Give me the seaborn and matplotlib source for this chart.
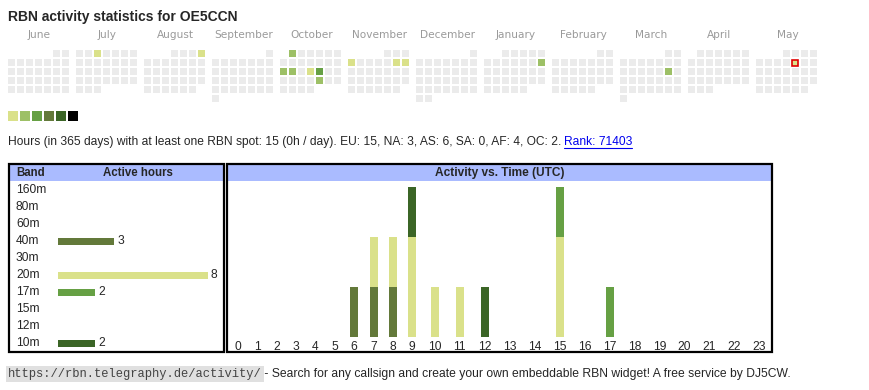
import calendar
import matplotlib
matplotlib.use('Agg')
import matplotlib.pyplot as plt
from matplotlib.patches import Rectangle
import seaborn as sns

# data
callsign = 'OE5CCN'
month_names = ['June', 'July', 'August', 'September', 'October', 'November',
               'December', 'January', 'February', 'March', 'April', 'May']
month_years = [2024, 2024, 2024, 2024, 2024, 2024, 2024, 2025, 2025, 2025, 2025, 2025]
month_nums = [6, 7, 8, 9, 10, 11, 12, 1, 2, 3, 4, 5]
active_days = ['2024-07-03', '2024-08-04', '2024-10-01', '2024-10-14', '2024-10-15',
               '2024-10-17', '2024-10-18', '2024-10-25', '2024-11-04', '2024-11-09',
               '2024-11-10', '2025-01-12', '2025-03-15', '2025-05-09']
active_levels = [1, 1, 2, 2, 2, 1, 3, 2, 1, 1, 1, 2, 2, 1]
today = '2025-05-09'
level_colors = ['#dae18a', '#9dc066', '#66a044', '#63793a', '#3b6526', '#000000']

bands = ['160m', '80m', '60m', '40m', '30m', '20m', '17m', '15m', '12m', '10m']
band_hours = [0, 0, 0, 3, 0, 8, 2, 0, 0, 2]
band_colors = ['#3b6526', '#63793a', '#66a044', '#63793a', '#9dc066',
               '#dae18a', '#66a044', '#9dc066', '#dae18a', '#3b6526']

hours = list(range(24))
act_40m = [0, 0, 0, 0, 0, 0, 1, 1, 1, 0, 0, 0, 0, 0, 0, 0, 0, 0, 0, 0, 0, 0, 0, 0]
act_20m = [0, 0, 0, 0, 0, 0, 0, 1, 1, 2, 1, 1, 0, 0, 0, 2, 0, 0, 0, 0, 0, 0, 0, 0]
act_17m = [0, 0, 0, 0, 0, 0, 0, 0, 0, 0, 0, 0, 0, 0, 0, 1, 0, 1, 0, 0, 0, 0, 0, 0]
act_10m = [0, 0, 0, 0, 0, 0, 0, 0, 0, 1, 0, 0, 1, 0, 0, 0, 0, 0, 0, 0, 0, 0, 0, 0]

summary = ('Hours (in 365 days) with at least one RBN spot: 15 (0h / day). '
           'EU: 15, NA: 3, AS: 6, SA: 0, AF: 4, OC: 2.')
rank = 'Rank: 71403'
url = 'https://rbn.telegraphy.de/activity/'
footer = ' - Search for any callsign and create your own embeddable RBN widget! A free service by DJ5CW.'

sns.set_theme(style='white')
plt.rcParams['font.family'] = ['Liberation Sans', 'DejaVu Sans']

W, H = 870, 390
FS = 8.65
fig = plt.figure(figsize=(W / 100, H / 100), dpi=100)
fig.patch.set_facecolor('white')


def px_axes(x0, y0, x1, y1):
    return fig.add_axes([x0 / W, 1 - y1 / H, (x1 - x0) / W, (y1 - y0) / H])


bg = px_axes(0, 0, W, H)
bg.set_xlim(0, W)
bg.set_ylim(H, 0)
bg.axis('off')

bg.text(8, 17, f'RBN activity statistics for {callsign}', fontsize=10,
        fontweight='bold', va='center', ha='left')

# calendar
lvl = dict(zip(active_days, active_levels))
for m, (yr, mo) in enumerate(zip(month_years, month_nums)):
    x_block = 8 + m * 68
    bg.text(x_block + 31.5, 35.5, month_names[m], fontsize=7.6, color='#9a9a9a',
            ha='center', va='center', family='DejaVu Sans')
    first_wd, ndays = calendar.monthrange(yr, mo)
    for d in range(1, ndays + 1):
        r, c = divmod(first_wd + d - 1, 7)
        key = f'{yr}-{mo:02d}-{d:02d}'
        col = level_colors[lvl[key] - 1] if key in lvl else '#ebebeb'
        if key == today:
            bg.add_patch(Rectangle((x_block + c * 9 + 0.5, 50 + r * 9 + 0.5), 6, 6,
                                   fc=col, ec='#e00000', lw=1.2))
        else:
            bg.add_patch(Rectangle((x_block + c * 9, 50 + r * 9), 7, 7, fc=col, ec='none'))

for i, c in enumerate(level_colors):
    bg.add_patch(Rectangle((8 + i * 12, 111), 10, 10, fc=c, ec='none'))

t = bg.text(8, 142, summary + ' ', fontsize=FS, va='center', ha='left')
fig.canvas.draw()
bb = t.get_window_extent()
xr = bb.x1 - 1
tr = bg.text(xr, 142, rank, fontsize=FS, va='center', ha='left', color='#0000ee')
fig.canvas.draw()
bb2 = tr.get_window_extent()
bg.plot([xr, bb2.x1], [147.5, 147.5], color='#0000ee', lw=0.8)

# band table frame
bg.add_patch(Rectangle((10, 165), 214, 16, fc='#aabbff', ec='none'))
bg.add_patch(Rectangle((9, 164), 215, 188, fill=False, ec='black', lw=1.6))
bg.text(16, 173, 'Band', fontsize=8.3, fontweight='bold', va='center')
bg.text(138, 173, 'Active hours', fontsize=8.3, fontweight='bold', va='center', ha='center')
for i, b in enumerate(bands):
    bg.text(16, 190 + 17 * i, b, fontsize=FS, va='center')

bax = px_axes(58, 181.5, 208, 351.5)
sns.barplot(x=band_hours, y=bands, hue=bands, palette=band_colors, orient='h',
            width=7 / 17, legend=False, saturation=1, linewidth=0, ax=bax)
bax.set_xlim(0, 8)
bax.set_ylim(9.5, -0.5)
bax.axis('off')
for i, v in enumerate(band_hours):
    if v > 0:
        bax.text(v + 3 / 18.75, i + 0.02, str(v), fontsize=FS, va='center', ha='left')

# activity vs time frame
bg.add_patch(Rectangle((228, 165), 543, 16, fc='#aabbff', ec='none'))
bg.add_patch(Rectangle((227, 164), 545, 188, fill=False, ec='black', lw=1.6))
bg.text(500, 173, 'Activity vs. Time (UTC)', fontsize=8.6, fontweight='bold',
        va='center', ha='center')

col_w = [19.4 if len(str(h)) == 1 else 25.0 for h in hours]
centers = []
acc = 0
for w in col_w:
    centers.append(acc + w / 2)
    acc += w

aax = px_axes(228, 187, 228 + acc, 337)
aax.patch.set_alpha(0)
bottom = [0] * 24
for vals, c in [(act_40m, '#63793a'), (act_20m, '#dae18a'),
                (act_17m, '#66a044'), (act_10m, '#3b6526')]:
    aax.bar(centers, vals, width=8, bottom=bottom, color=c, linewidth=0)
    bottom = [b + v for b, v in zip(bottom, vals)]
aax.set_xlim(0, acc)
aax.set_ylim(0, 3)
aax.set_xticks(centers, [str(h) for h in hours])
aax.set_yticks([])
aax.tick_params(axis='x', length=0, pad=3, labelsize=FS)
for s in aax.spines.values():
    s.set_visible(False)

# footer
bg.text(8, 374, url, fontsize=8.7, family='Liberation Mono', color='#444444',
        va='center', ha='left',
        bbox=dict(boxstyle='square,pad=0.15', fc='#e0e0e0', ec='none'))
bg.text(261, 374, footer, fontsize=8.7, va='center', ha='left')

fig.savefig('out.png', dpi=100, facecolor='white')
